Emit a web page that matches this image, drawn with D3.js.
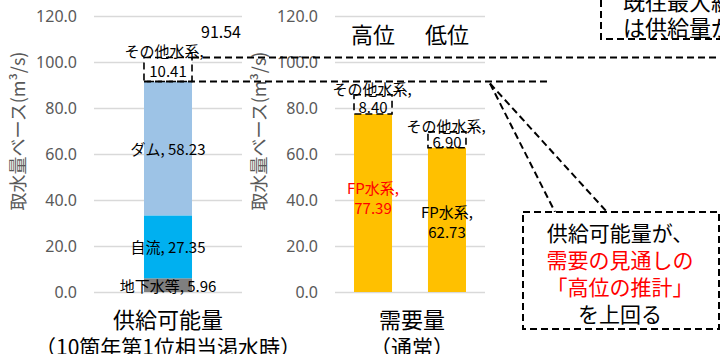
<!DOCTYPE html>
<html>
<head>
<meta charset="utf-8">
<script src="https://cdn.jsdelivr.net/npm/d3@7"></script>
<style>
  body { margin: 0; background: #fff; }
  svg { display: block; font-family: "Noto Sans CJK JP", "Noto Sans", sans-serif; }
</style>
</head>
<body>
<svg></svg>
<script>
// supply side (one stacked bar)
let supplyCat = ["供給可能量"]
let supplySub = "（10箇年第1位相当渇水時）"
let supplyNames = ["地下水等", "自流", "ダム", "その他水系"]
let supplyValues = [5.96, 27.35, 58.23, 10.41]
let supplyTotal = 91.54

// demand side
let demandCats = ["高位", "低位"]
let demandTitle = "需要量"
let demandSub = "（通常）"
let demandFP = [77.39, 62.73]
let demandOther = [8.40, 6.90]

let yTicks = [0, 20, 40, 60, 80, 100, 120]
let yTitle = "取水量ベース(m³/s)"

let calloutLines = ["供給可能量が、", "需要の見通しの", "「高位の推計」", "を上回る"]
let topBoxLines = ["既往最大級", "は供給量が"]

let width = 720
let height = 354

let svg = d3.select("svg").attr("width", width).attr("height", height)

let yScale = d3.scaleLinear().domain([0, 120]).range([292, 16])

let xLeft = d3.scaleBand().domain(supplyCat).range([94, 242]).padding(0.51)
let xRight = d3.scaleBand().domain(demandCats).range([335, 485])
               .paddingInner(0.486).paddingOuter(0.257)

let dash = "7,4"
let label = (x, y, txt, size, color, anchor) => {
  return svg.append("text")
     .attr("x", x).attr("y", y)
     .attr("text-anchor", anchor || "middle")
     .attr("dominant-baseline", "central")
     .attr("font-size", size)
     .attr("fill", color || "#000")
     .text(txt)
}

let makeAxis = (x0, x1) => {
  let axis = d3.axisLeft(yScale)
               .tickValues(yTicks)
               .tickFormat(d3.format(".1f"))
               .tickSizeInner(-(x1 - x0))
               .tickSizeOuter(0)
               .tickPadding(17)
  let g = svg.append("g")
     .attr("transform", "translate(" + x0 + ",0)")
     .call(axis)
  g.select(".domain").remove()
  g.selectAll(".tick line").attr("stroke", "#d9d9d9").attr("stroke-width", 1.3)
  g.selectAll(".tick text")
   .attr("fill", "#595959")
   .attr("font-size", 16)
   .attr("font-family", "'Noto Sans', sans-serif")
}

makeAxis(94, 242)
makeAxis(335, 485)

// y titles
let yTitleAt = (x) => {
  svg.append("text")
     .attr("transform", "translate(" + x + ",131) rotate(-90)")
     .attr("text-anchor", "middle")
     .attr("dominant-baseline", "central")
     .attr("font-size", 18)
     .attr("fill", "#595959")
     .text(yTitle)
}
yTitleAt(17)
yTitleAt(258)

// supply stacked bar
let supplyColors = ["#7f7f7f", "#00b0f0", "#9dc3e6", "#ffffff"]
let cum = [0].concat(Array.from(d3.cumsum(supplyValues)))
let bx = xLeft(supplyCat[0])
let bw = xLeft.bandwidth()

svg.selectAll("rect.supply")
   .data(supplyValues)
   .enter()
   .append("rect")
   .attr("class", "supply")
   .attr("x", bx)
   .attr("width", bw)
   .attr("y", (d, i) => yScale(cum[i + 1]))
   .attr("height", (d, i) => yScale(cum[i]) - yScale(cum[i + 1]))
   .attr("fill", (d, i) => supplyColors[i])
   .attr("stroke", (d, i) => i == 3 ? "#000" : "none")
   .attr("stroke-width", 1.6)
   .attr("stroke-dasharray", dash)

// demand bars
demandCats.forEach((c, i) => {
  svg.append("rect")
     .attr("x", xRight(c)).attr("width", xRight.bandwidth())
     .attr("y", yScale(demandFP[i]))
     .attr("height", yScale(0) - yScale(demandFP[i]))
     .attr("fill", "#ffc000")
  svg.append("rect")
     .attr("x", xRight(c)).attr("width", xRight.bandwidth())
     .attr("y", yScale(demandFP[i] + demandOther[i]))
     .attr("height", yScale(demandFP[i]) - yScale(demandFP[i] + demandOther[i]))
     .attr("fill", "none")
     .attr("stroke", "#000").attr("stroke-width", 1.6)
     .attr("stroke-dasharray", dash)
})

// dashed reference lines
let yTot = yScale(supplyTotal)
let yTop = yScale(supplyTotal + supplyValues[3])
svg.append("line")
   .attr("x1", bx).attr("x2", 547).attr("y1", yTot).attr("y2", yTot)
   .attr("stroke", "#000").attr("stroke-width", 2).attr("stroke-dasharray", dash)
svg.append("line")
   .attr("x1", bx + bw).attr("x2", width).attr("y1", yTop).attr("y2", yTop)
   .attr("stroke", "#000").attr("stroke-width", 2).attr("stroke-dasharray", dash)

// supply labels
let cx = bx + bw / 2
supplyNames.forEach((n, i) => {
  let mid = yScale((cum[i] + cum[i + 1]) / 2)
  if (i == 3) {
    label(cx - 4, yScale(cum[4]) - 7, n + ",", 15)
    label(cx, mid + 1, supplyValues[i].toFixed(2), 15)
  } else {
    label(cx, mid, n + ", " + supplyValues[i].toFixed(2), 15)
  }
})
label(bx + bw + 9, yTop - 27, supplyTotal.toFixed(2), 16, "#000", "start")

// demand labels
demandCats.forEach((c, i) => {
  let x = xRight(c) + xRight.bandwidth() / 2
  let col = i == 0 ? "#ff0000" : "#000"
  let mid = yScale(demandFP[i] / 2)
  label(x, mid - 16 + i * 8, "FP水系,", 15, col)
  label(x, mid + 4 + i * 8, demandFP[i].toFixed(2), 15, col)
  let top = yScale(demandFP[i] + demandOther[i])
  let omid = yScale(demandFP[i] + demandOther[i] / 2)
  label(x - 1, top - 6, "その他水系,", 15)
  label(x, omid + 2, demandOther[i].toFixed(2), 15)
  label(x, 33, c, 22)
})

// category titles under the charts
label(cx, 318, supplyCat[0], 22)
label(cx, 346, supplySub, 21)
label((335 + 485) / 2 + 2, 318, demandTitle, 22)
label((335 + 485) / 2 + 2, 346, demandSub, 21)

// callout box and pointer lines
svg.append("line").attr("x1", 490).attr("y1", yTot + 2).attr("x2", 555).attr("y2", 212)
   .attr("stroke", "#000").attr("stroke-width", 2).attr("stroke-dasharray", dash)
svg.append("line").attr("x1", 490).attr("y1", yTot + 2).attr("x2", 607).attr("y2", 212)
   .attr("stroke", "#000").attr("stroke-width", 2).attr("stroke-dasharray", dash)
svg.append("rect")
   .attr("x", 523).attr("y", 212).attr("width", 196).attr("height", 117)
   .attr("fill", "#fff").attr("stroke", "#000").attr("stroke-width", 2)
   .attr("stroke-dasharray", dash)
let calloutColors = ["#000", "#ff0000", "#ff0000", "#000"]
calloutLines.forEach((t, i) => {
  label(620, 232 + i * 27, t, 21, calloutColors[i])
})

// top right box (cut by the frame)
svg.append("path")
   .attr("d", "M601,0 V39 H" + width)
   .attr("fill", "none").attr("stroke", "#000").attr("stroke-width", 2)
   .attr("stroke-dasharray", dash)
topBoxLines.forEach((t, i) => {
  label(623, 0 + i * 26, t, 22, "#000", "start")
})
</script>
</body>
</html>
